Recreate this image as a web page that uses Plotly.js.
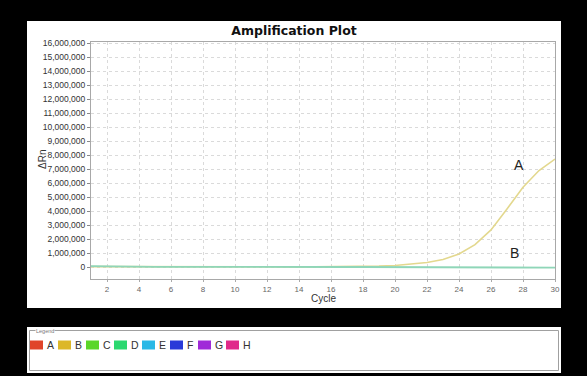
<!DOCTYPE html>
<html>
<head>
<meta charset="utf-8">
<script src="https://cdn.plot.ly/plotly-3.0.1.min.js"></script>
<style>html,body{margin:0;padding:0;background:#000;}#chart{width:587px;height:376px;}</style>
</head>
<body>
<div id="chart"></div>
<script>
// ---- data ----
const cycles = [1,2,3,4,5,6,7,8,9,10,11,12,13,14,15,16,17,18,19,20,21,22,23,24,25,26,27,28,29,30];
const sampleA = [30000,25000,20000,10000,5000,0,0,-5000,-5000,-5000,0,0,5000,10000,15000,20000,30000,45000,70000,110000,190000,320000,530000,930000,1600000,2650000,4150000,5700000,6900000,7720000];
const sampleB = [60000,60000,50000,30000,15000,5000,0,0,0,0,0,0,0,0,0,0,0,0,0,0,0,0,0,-5000,-10000,-15000,-25000,-40000,-45000,-45000];
const curveLabels = ["A","B"];
const curveLabelPos = [[27.75,7300000],[27.45,1000000]];
const legendLabels = ["A","B","C","D","E","F","G","H"];
const legendColors = ["#e0442a","#dcb728","#5ad62a","#2ad870","#2ab8e6","#2a3ad8","#a02ad8","#e02a8a"];
const yTicks = [0,1000000,2000000,3000000,4000000,5000000,6000000,7000000,8000000,9000000,10000000,11000000,12000000,13000000,14000000,15000000,16000000];
const xTicks = [2,4,6,8,10,12,14,16,18,20,22,24,26,28,30];

// ---- layout helpers (pixel -> paper) ----
const L = 91, R = 555, T = 42, B = 279;
const px = x => (x - L) / (R - L);
const py = y => (B - y) / (B - T);

const traces = [
  {x: cycles, y: sampleA, type: 'scatter', mode: 'lines', line: {color: '#e3d88e', width: 1.6}, showlegend: false, hoverinfo: 'skip'},
  {x: cycles, y: sampleB, type: 'scatter', mode: 'lines', line: {color: '#8fd6b8', width: 1.8}, showlegend: false, hoverinfo: 'skip'}
];

const shapes = [
  {type: 'rect', xref: 'paper', yref: 'paper', x0: px(27), x1: px(561), y0: py(308), y1: py(21), fillcolor: '#ffffff', line: {width: 0}, layer: 'below'},
  {type: 'rect', xref: 'paper', yref: 'paper', x0: px(27), x1: px(561), y0: py(373), y1: py(327), fillcolor: '#ffffff', line: {width: 0}, layer: 'below'},
  {type: 'rect', xref: 'paper', yref: 'paper', x0: px(29.5), x1: px(558.5), y0: py(370.5), y1: py(330.5), fillcolor: 'rgba(0,0,0,0)', line: {width: 1, color: '#a0a0a0'}, layer: 'above'}
];

const font = 'Liberation Sans, Arial';
const annotations = [
  {text: 'ΔRn', xref: 'paper', yref: 'paper', x: px(42), y: py(160), xanchor: 'center', yanchor: 'middle', textangle: -90, showarrow: false, font: {family: font, size: 10, color: '#333'}},
  {text: 'Cycle', xref: 'paper', yref: 'paper', x: px(323), y: py(298), xanchor: 'center', yanchor: 'middle', showarrow: false, font: {family: font, size: 10, color: '#333'}},
  {text: 'Legend', xref: 'paper', yref: 'paper', x: px(35), y: py(331), xanchor: 'left', yanchor: 'middle', showarrow: false, bgcolor: '#ffffff', borderpad: 0, font: {family: font, size: 5.5, color: '#777'}}
];
curveLabels.forEach((t, i) => {
  annotations.push({text: t, x: curveLabelPos[i][0], y: curveLabelPos[i][1], xref: 'x', yref: 'y', xanchor: 'center', yanchor: 'middle', showarrow: false, font: {family: font, size: 14, color: '#222'}});
});
legendLabels.forEach((t, i) => {
  const cx = 36.5 + 28 * i;
  shapes.push({type: 'rect', xref: 'paper', yref: 'paper', x0: px(cx - 6.5), x1: px(cx + 6.5), y0: py(349.5), y1: py(340.5), fillcolor: legendColors[i], line: {width: 0}});
  annotations.push({text: t, xref: 'paper', yref: 'paper', x: px(cx + 8.5), y: py(345), xanchor: 'left', yanchor: 'middle', showarrow: false, font: {family: font, size: 10.5, color: '#333'}});
});

const layout = {
  width: 587, height: 376,
  paper_bgcolor: '#000000', plot_bgcolor: '#ffffff',
  margin: {l: L, r: 587 - R, t: T, b: 376 - B, pad: 0},
  title: {text: '<b>Amplification Plot</b>', x: px(294), xref: 'paper', xanchor: 'center', y: 1 - 31/376, yanchor: 'middle', font: {family: 'DejaVu Sans, Verdana', size: 12.5, color: '#111'}},
  xaxis: {range: [1, 30], tickvals: xTicks, ticktext: xTicks.map(String), showgrid: true, gridcolor: '#dadada', griddash: 'dot', gridwidth: 1,
          showline: true, linecolor: '#a8a8a8', mirror: true, ticks: 'outside', ticklen: 2, tickcolor: '#aaa', zeroline: false,
          tickfont: {family: font, size: 8, color: '#666'}},
  yaxis: {range: [-858000, 16090000], tickvals: yTicks, ticktext: yTicks.map(v => v.toLocaleString('en-US')), showgrid: true, gridcolor: '#dadada', griddash: 'dot', gridwidth: 1,
          showline: true, linecolor: '#a8a8a8', mirror: true, ticks: 'outside', ticklen: 3, tickcolor: '#888', zeroline: false,
          tickfont: {family: font, size: 8.5, color: '#333'}},
  shapes: shapes,
  annotations: annotations,
  showlegend: false
};

Plotly.newPlot('chart', traces, layout, {staticPlot: true, displayModeBar: false});
</script>
</body>
</html>
